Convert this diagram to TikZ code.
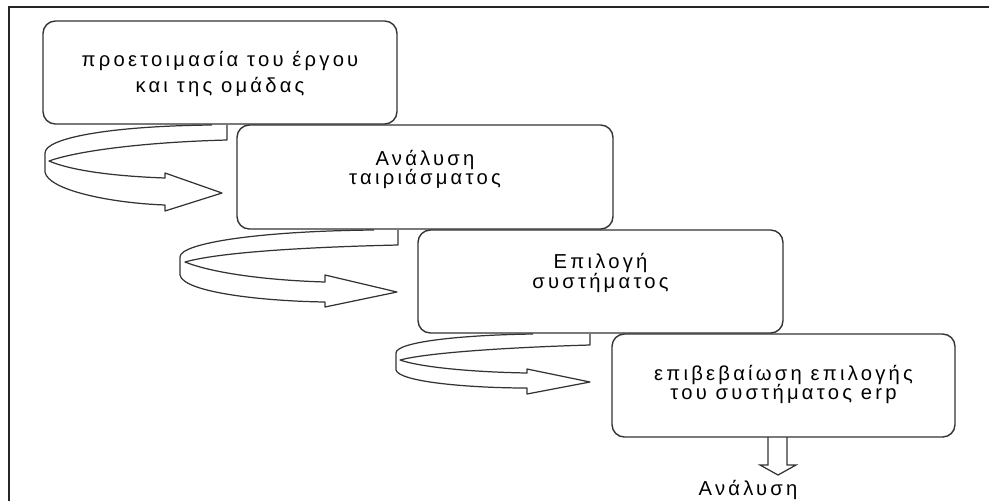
\documentclass[tikz,border=0pt]{standalone}
\usepackage{fontspec}
\setmainfont{Liberation Sans}[LetterSpace=16]
\tikzset{
  phase/.style={draw=black!80, line width=0.8pt, rounded corners=7pt},
  phasetext/.style={align=center, inner sep=0pt, font=\fontsize{11.5}{11.3}\selectfont},
  ribbon/.style={draw=black!80, line width=0.7pt, line join=round},
  blockarrow/.style={draw=black!80, line width=0.7pt}
}
\begin{document}
\begin{tikzpicture}[x=0.02cm, y=-0.02cm]
  \useasboundingbox (0,0) rectangle (989,501);
  % frame
  \draw[line width=1.1pt, black!85] (9,501) -- (9,7) -- (989,7);

  \node[phase, minimum width=7.08cm, minimum height=2.06cm] (prep) at (220,72.5) {};
  \node[phase, minimum width=7.52cm, minimum height=2.08cm] (fit) at (425,177) {};
  \node[phase, minimum width=7.3cm, minimum height=2.06cm] (select) at (600.5,281.5) {};
  \node[phase, minimum width=6.86cm, minimum height=2.06cm] (confirm) at (783.5,385.5) {};

  \node[phasetext, font=\fontsize{11.5}{14.7}\selectfont] (preptext) at ([yshift=-0.03cm]prep.center)
    {προετοιμασία του έργου\\και της ομάδας};
  \node[phasetext] (fittext) at ([yshift=0.15cm]fit.center) {Ανάλυση\\ταιριάσματος};
  \node[phasetext] (selecttext) at ([yshift=0.17cm]select.center) {Επιλογή\\συστήματος};
  \node[phasetext] (confirmtext) at ([yshift=0.02cm]confirm.center)
    {επιβεβαίωση επιλογής\\του συστήματος erp};
  \node[phasetext] (next) at (748,490) {Ανάλυση};

  % turning arrows
  \draw[ribbon] (212,125) .. controls (110,126) and (45,138) .. (45,153) -- (45,172)
    .. controls (48,190) and (110,203) .. (165,205) -- (165,211) -- (222,193)
    -- (165,173) -- (165,178) .. controls (110,176) and (70,170) .. (49,161)
    .. controls (80,150) and (150,142) .. (227,140) -- (227,125);
  \draw[ribbon] (374,230) .. controls (260,231) and (180,243) .. (180,257) -- (180,275)
    .. controls (183,292) and (260,301) .. (325,302) -- (325,307) -- (397,292)
    -- (325,275) -- (325,282) .. controls (260,280) and (210,272) .. (185,262)
    .. controls (220,252) and (310,247) .. (398,245) -- (398,230);
  \draw[ribbon] (533,334) .. controls (460,335) and (396,342) .. (396,353) -- (396,370)
    .. controls (399,382) and (470,388) .. (527,388) -- (527,394) -- (590,382)
    -- (527,369) -- (527,373) .. controls (470,372) and (420,367) .. (400,360)
    .. controls (430,352) and (520,347) .. (590,345) -- (590,334);

  % down arrow
  \draw[blockarrow] (768,437) -- (768,465) -- (760,465) -- (778,475) -- (796,465)
    -- (787,465) -- (787,437);
\end{tikzpicture}
\end{document}
